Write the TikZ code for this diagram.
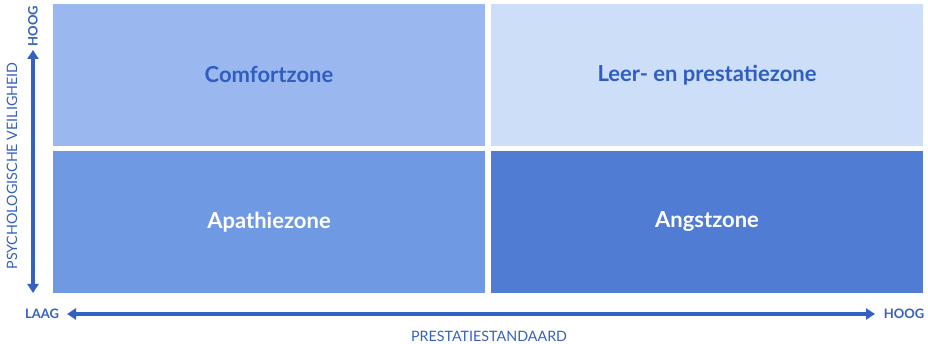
\documentclass[tikz,border=0pt]{standalone}
\usepackage{fontspec}
\setmainfont{Lato}
\usetikzlibrary{positioning,arrows.meta}
\definecolor{comfortblue}{HTML}{9BB7EF}
\definecolor{leerblue}{HTML}{CDDEF8}
\definecolor{apathieblue}{HTML}{7099E3}
\definecolor{angstblue}{HTML}{517CD3}
\definecolor{axisblue}{HTML}{3461C1}
\definecolor{labelblue}{HTML}{2F5EC0}
\tikzset{
  zone/.style={minimum width=432pt, minimum height=142pt, inner sep=0pt, font=\bfseries\fontsize{22}{26}\selectfont},
  axislabel/.style={text=axisblue, font=\fontsize{14.3}{17}\selectfont},
  endlabel/.style={text=axisblue, font=\bfseries\fontsize{13}{15}\selectfont},
  axisarrow/.style={axisblue, line width=3.2pt, {Triangle[width=11pt,length=9pt]}-{Triangle[width=11pt,length=9pt]}}
}
\begin{document}
\begin{tikzpicture}[x=1pt,y=-1pt]
\useasboundingbox (0,0) rectangle (928,344);
	%zones
	\node[zone, fill=comfortblue, text=labelblue] (comfort) at (269,75) {Comfortzone};
	\node[zone, fill=leerblue, text=labelblue] (leer) at (707,75) {Leer- en prestatiezone};
	\node[zone, fill=apathieblue, text=white] (apathie) at (269,222) {Apathiezone};
	\node[zone, fill=angstblue, text=white] (angst) at (707,222) {Angstzone};
	
	%axes
	\coordinate (ylow) at (33,293); \coordinate (yhigh) at (33,50);
	\coordinate (xlow) at (67,314); \coordinate (xhigh) at (875,314);
	\draw[axisarrow] (ylow)--(yhigh);
	\draw[axisarrow] (xlow)--(xhigh);
	
	%labels
	\node[endlabel, rotate=90] (yhoog) at (33,26) {HOOG};
	\node[axislabel, rotate=90] (ytitle) at (12,166) {PSYCHOLOGISCHE VEILIGHEID};
	\node[endlabel] (xlaag) at (42,314) {LAAG};
	\node[endlabel] (xhoog) at (904,314) {HOOG};
	\node[axislabel] (xtitle) at (489,336) {PRESTATIESTANDAARD};
\end{tikzpicture}
\end{document}
